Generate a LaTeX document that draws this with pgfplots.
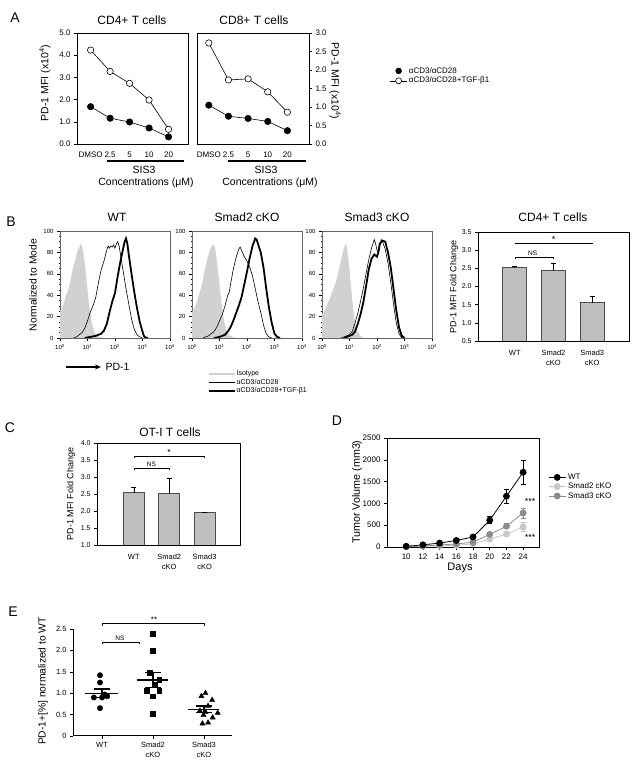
\documentclass[border=0pt]{standalone}
\usepackage{fontspec}
\setmainfont{Liberation Sans}
\usepackage{pgfplots}
\pgfplotsset{compat=1.18}
\usetikzlibrary{arrows.meta}

\newcommand{\fs}[2]{\fontsize{#1bp}{#2bp}\selectfont}

\pgfplotsset{
  base/.style={scale only axis, anchor=south west,
    /pgf/number format/assume math mode=true,
    axis line style={line width=0.6bp},
    every tick/.style={black, line width=0.5bp},
    tick align=outside, major tick length=3bp, minor tick length=1.5bp},
  onedec/.style={/pgf/number format/fixed, /pgf/number format/fixed zerofill,
    /pgf/number format/precision=1},
  hist/.style={base, width=110bp, height=107bp, xmin=0, xmax=4, ymin=0, ymax=100,
    axis line style={black!60, line width=0.5bp},
    xtick={0,1,2,3,4},
    xticklabels={10\textsuperscript{0},10\textsuperscript{1},10\textsuperscript{2},10\textsuperscript{3},10\textsuperscript{4}},
    minor xtick={0.301,0.477,0.602,0.699,0.778,0.845,0.903,0.954,
      1.301,1.477,1.602,1.699,1.778,1.845,1.903,1.954,
      2.301,2.477,2.602,2.699,2.778,2.845,2.903,2.954,
      3.301,3.477,3.602,3.699,3.778,3.845,3.903,3.954},
    ytick={0,20,40,60,80,100}, minor y tick num=3,
    xtick pos=bottom, ytick pos=left,
    tick label style={font=\fs{6}{7}}},
  iso/.style={draw=none, fill=black!18, forget plot},
  thin/.style={black, line width=0.6bp, forget plot},
  thick/.style={black, line width=1.8bp, forget plot},
  bars/.style={ybar, bar width=#1, fill=black!25, draw=black!70, line width=0.8bp,
    error bars/.cd, y dir=plus, y explicit,
    error mark options={rotate=90, mark size=2.5bp, line width=0.6bp},
    error bar style={line width=0.6bp}},
  grow/.style={color=#1, line width=0.8bp, mark=*, mark size=3bp, forget plot},
  errs/.style={color=#1, line width=0.5bp, unbounded coords=jump, forget plot},
}

\begin{document}
\begin{tikzpicture}[x=1bp,y=1bp]
\useasboundingbox (0,0) rectangle (637,773);

% panel letters
\node[font=\fs{14}{16}] at (15,755) {A};
\node[font=\fs{14}{16}] at (11,551) {B};
\node[font=\fs{14}{16}] at (10,345) {C};
\node[font=\fs{14}{16}] at (337,352) {D};
\node[font=\fs{14}{16}] at (13,161) {E};

% ---------------- A ----------------
\node[font=\fs{12}{14}] at (132,753) {CD4+ T cells};
\node[font=\fs{12}{14}] at (254,753) {CD8+ T cells};
\node[font=\fs{10.5}{12}, rotate=90] at (45,690) {PD-1 MFI (x10\textsuperscript{4})};
\node[font=\fs{10.5}{12}, rotate=-90] at (335,692) {PD-1 MFI (x10\textsuperscript{4})};
\draw[line width=1.1bp] (107,612) -- (184,612);
\draw[line width=1.1bp] (228,612) -- (306,612);
\node[font=\fs{10.5}{12}] at (144,603) {SIS3};
\node[font=\fs{10.5}{12}] at (146,590) {Concentrations (μM)};
\node[font=\fs{10.5}{12}] at (266,603) {SIS3};
\node[font=\fs{10.5}{12}] at (270,590) {Concentrations (μM)};

\begin{axis}[base, at={(77bp,629bp)}, width=111bp, height=111bp,
  xmin=-0.7, xmax=5, ymin=0, ymax=5,
  xtick={0,1,2,3,4}, xticklabels={DMSO,2.5,5,10,20}, x tick style={draw=none},
  ytick={0,1,2,3,4,5}, ytick pos=left, yticklabel style={onedec},
  tick label style={font=\fs{8}{9}}, xticklabel style={yshift=-1bp}]
\addplot[black, line width=0.6bp, mark=*, mark size=3.2bp,
  mark options={fill=white, line width=0.6bp}]
  coordinates {(0,4.23)(1,3.27)(2,2.73)(3,1.98)(4,0.66)};
\addplot[black, line width=0.6bp, mark=*, mark size=3.2bp]
  coordinates {(0,1.68)(1,1.16)(2,0.99)(3,0.72)(4,0.32)};
\end{axis}

\begin{axis}[base, at={(197bp,629bp)}, width=112bp, height=111bp,
  xmin=-0.6, xmax=5.1, ymin=0, ymax=3,
  xtick={0,1,2,3,4}, xticklabels={DMSO,2.5,5,10,20}, x tick style={draw=none},
  ytick={0,0.5,...,3}, ytick pos=right, yticklabel pos=right, yticklabel style={onedec},
  tick label style={font=\fs{8}{9}}, xticklabel style={yshift=-1bp},
  legend style={at={(1.72,0.70)}, anchor=north west, draw=none, fill=none,
    font=\fs{8}{9}, inner sep=0pt, row sep=1bp, nodes={inner sep=0.8bp, inner xsep=1.5bp}},
  legend cell align=left]
\addplot[black, line width=0.6bp, mark=*, mark size=3.2bp,
  mark options={fill=white, line width=0.6bp}, forget plot]
  coordinates {(0,2.73)(1,1.73)(2,1.76)(3,1.41)(4,0.86)};
\addplot[black, line width=0.6bp, mark=*, mark size=3.2bp, forget plot]
  coordinates {(0,1.05)(1,0.75)(2,0.69)(3,0.61)(4,0.36)};
\addlegendimage{only marks, mark=*, mark size=3bp, black}
\addlegendentry{αCD3/αCD28}
\addlegendimage{black, line width=0.6bp, mark=*, mark size=3bp, mark options={fill=white}}
\addlegendentry{αCD3/αCD28+TGF-β1}
\end{axis}

% ---------------- B histograms ----------------
\node[font=\fs{12}{14}] at (117,556) {WT};
\node[font=\fs{12}{14}] at (247,556) {Smad2 cKO};
\node[font=\fs{12}{14}] at (377,556) {Smad3 cKO};
\node[font=\fs{10.3}{12}, rotate=90] at (33,488) {Normalized to Mode};
\draw[-{Stealth[length=6bp,width=5bp]}, line width=1.3bp] (66,406) -- (101,406);
\node[font=\fs{10.5}{12}, anchor=west] at (102,406) {PD-1};

\begin{axis}[hist, at={(60bp,435bp)}]
\addplot[iso] coordinates {(0,25)(0.05,27)(0.1,30)(0.15,33)(0.2,38)(0.25,42)(0.3,45)
  (0.35,50)(0.4,56)(0.45,63)(0.5,68)(0.55,72)(0.6,78)(0.65,82)(0.7,85)(0.75,88)(0.8,86)
  (0.85,80)(0.9,70)(0.95,58)(1.0,45)(1.05,33)(1.1,24)(1.15,16)(1.2,10)(1.25,6)(1.3,3)
  (1.4,1.5)(1.5,0.5)(1.6,0)} \closedcycle;
\addplot[thin] coordinates {(0.5,0)(0.6,1)(0.7,3)(0.8,5)(0.9,9)(1.0,16)(1.1,24)(1.2,30)
  (1.3,38)(1.4,52)(1.5,64)(1.6,72)(1.7,82)(1.75,86)(1.8,84)(1.85,86)(1.9,85)(1.95,87)
  (2.0,84)(2.05,88)(2.1,90)(2.15,86)(2.2,78)(2.3,62)(2.4,46)(2.5,32)(2.6,18)(2.7,8)
  (2.8,3)(2.9,1)(3.0,0)};
\addplot[thick] coordinates {(0.9,0)(1.0,0.5)(1.1,1)(1.2,1.5)(1.3,2)(1.4,3)(1.5,4)(1.6,7)
  (1.7,13)(1.8,24)(1.9,34)(2.0,42)(2.1,58)(2.2,72)(2.3,84)(2.35,90)(2.4,93)(2.45,88)
  (2.5,78)(2.6,60)(2.7,43)(2.8,28)(2.9,15)(3.0,6)(3.05,2)(3.1,0.5)(3.2,0)};
\end{axis}

\begin{axis}[hist, at={(192bp,435bp)},
  legend style={at={(0.136,-0.30)}, anchor=north west, draw=none, fill=none,
    font=\fs{7}{8}, inner sep=0pt, row sep=0.8bp, nodes={inner sep=0.6bp}},
  legend cell align=left,
  legend image code/.code={\draw[#1] (0bp,0bp) -- (26bp,0bp);}]
\addplot[iso] coordinates {(0,24)(0.05,26)(0.1,28)(0.15,32)(0.2,36)(0.25,40)(0.3,44)
  (0.35,49)(0.4,55)(0.45,62)(0.5,68)(0.55,73)(0.6,78)(0.65,82)(0.7,85)(0.75,87)(0.8,87)
  (0.85,82)(0.9,73)(0.95,62)(1.0,50)(1.05,38)(1.1,27)(1.15,18)(1.2,12)(1.25,7)(1.3,4)
  (1.4,2)(1.5,0.5)(1.6,0)} \closedcycle;
\addplot[thin] coordinates {(0.4,0)(0.5,1)(0.6,2)(0.7,4)(0.8,6)(0.9,10)(1.0,16)(1.1,22)
  (1.2,30)(1.3,40)(1.35,42)(1.4,50)(1.5,64)(1.6,75)(1.7,83)(1.75,85)(1.8,82)(1.9,76)
  (2.0,72)(2.1,66)(2.2,58)(2.3,46)(2.4,34)(2.5,24)(2.6,12)(2.7,4)(2.8,1)(2.9,0)};
\addplot[thick] coordinates {(0.8,0)(0.9,0.5)(1.0,1)(1.1,2)(1.2,3)(1.3,6)(1.4,10)(1.5,16)
  (1.6,23)(1.7,30)(1.8,38)(1.9,50)(2.0,62)(2.1,75)(2.2,86)(2.3,93)(2.35,92)(2.4,88)
  (2.5,80)(2.6,66)(2.7,46)(2.8,28)(2.9,14)(3.0,4)(3.1,1)(3.2,0)};
\addlegendimage{black!18, line width=2.8bp}
\addlegendentry{Isotype}
\addlegendimage{black, line width=0.6bp}
\addlegendentry{αCD3/αCD28}
\addlegendimage{black, line width=2bp}
\addlegendentry{αCD3/αCD28+TGF-β1}
\end{axis}

\begin{axis}[hist, at={(322bp,435bp)}]
\addplot[iso] coordinates {(0,22)(0.1,26)(0.2,32)(0.3,38)(0.4,45)(0.5,52)(0.6,62)
  (0.7,74)(0.8,84)(0.85,88)(0.9,85)(0.95,76)(1.0,64)(1.05,50)(1.1,36)(1.15,24)(1.2,14)
  (1.3,6)(1.4,2)(1.5,0)} \closedcycle;
\addplot[thin] coordinates {(0.7,0)(0.8,1)(0.9,2)(1.0,3)(1.1,6)(1.2,14)(1.3,23)(1.4,34)
  (1.5,46)(1.6,60)(1.7,73)(1.8,84)(1.9,92)(1.95,88)(2.0,82)(2.05,80)(2.1,86)(2.15,92)
  (2.2,90)(2.3,83)(2.4,70)(2.5,52)(2.6,32)(2.7,14)(2.8,4)(2.9,0)};
\addplot[thick] coordinates {(0.8,0)(0.9,1)(1.0,2)(1.1,3)(1.2,6)(1.3,13)(1.4,22)(1.5,33)
  (1.6,48)(1.7,64)(1.8,74)(1.9,78)(2.0,76)(2.05,80)(2.1,88)(2.2,91)(2.3,90)(2.4,80)
  (2.5,66)(2.6,46)(2.7,26)(2.8,10)(2.9,2)(3.0,0)};
\end{axis}

% ---------------- B bar chart ----------------
\node[font=\fs{12}{14}] at (553,556) {CD4+ T cells};
\node[font=\fs{9}{11}, rotate=90] at (454,486) {PD-1 MFI Fold Change};
\begin{axis}[base, at={(478bp,432bp)}, width=151bp, height=109bp,
  xmin=-0.95, xmax=2.95, ymin=0.5, ymax=3.5,
  xtick={0,1,2}, xticklabels={WT,{Smad2\\cKO},{Smad3\\cKO}}, x tick style={draw=none},
  xticklabel style={align=center, font=\fs{7.5}{9.5}, yshift=-3bp},
  ytick={0.5,1,...,3.5}, ytick pos=left, yticklabel style={onedec, font=\fs{7}{8}}]
\addplot[bars=24bp] coordinates {(0,2.53) +- (0,0.02) (1,2.45) +- (0,0.18) (2,1.55) +- (0,0.18)};
\draw[line width=0.5bp] (axis cs:0,3.16) -- (axis cs:0,3.2) -- (axis cs:2,3.2) -- (axis cs:2,3.16);
\node[font=\fs{9}{10}, anchor=south, inner sep=0.5bp] at (axis cs:1,3.2) {*};
\draw[line width=0.5bp] (axis cs:0,2.77) -- (axis cs:0,2.81) -- (axis cs:1,2.81) -- (axis cs:1,2.77);
\node[font=\fs{6.5}{7}, anchor=south, inner sep=1bp] at (axis cs:0.46,2.81) {NS};
\end{axis}

% ---------------- C ----------------
\node[font=\fs{12}{14}] at (170,341) {OT-I T cells};
\node[font=\fs{9}{11}, rotate=90] at (71,279) {PD-1 MFI Fold Change};
\begin{axis}[base, at={(97bp,228bp)}, width=143bp, height=102bp,
  xmin=-1.04, xmax=3.0, ymin=1, ymax=4,
  xtick={0,1,2}, xticklabels={WT,{Smad2\\cKO},{Smad3\\cKO}}, x tick style={draw=none},
  xticklabel style={align=center, font=\fs{7.5}{9.5}, yshift=-3bp},
  ytick={1,1.5,...,4}, ytick pos=left, yticklabel style={onedec, font=\fs{7}{8}}]
\addplot[bars=21bp] coordinates {(0,2.54) +- (0,0.17) (1,2.51) +- (0,0.46) (2,1.96) +- (0,0.01)};
\draw[line width=0.5bp] (axis cs:0,3.57) -- (axis cs:0,3.62) -- (axis cs:2,3.62) -- (axis cs:2,3.57);
\node[font=\fs{9}{10}, anchor=south, inner sep=0.5bp] at (axis cs:1,3.62) {*};
\draw[line width=0.5bp] (axis cs:0,3.21) -- (axis cs:0,3.26) -- (axis cs:1,3.26) -- (axis cs:1,3.21);
\node[font=\fs{6.5}{7}, anchor=south, inner sep=1bp] at (axis cs:0.5,3.26) {NS};
\end{axis}

% ---------------- D ----------------
\node[font=\fs{10.7}{12}, rotate=90] at (357,281) {Tumor Volume (mm3)};
\node[font=\fs{11}{13}] at (460,205) {Days};
\node[font=\fs{9}{10}] at (530,272) {***};
\node[font=\fs{9}{10}] at (530,236) {***};
\begin{axis}[base, at={(387bp,226bp)}, width=152bp, height=109bp,
  xmin=7.7, xmax=25.9, ymin=0, ymax=2500,
  xtick={10,12,14,16,18,20,22,24}, ytick={0,500,1000,1500,2000,2500},
  yticklabels={0,500,1000,1500,2000,2500},
  xtick pos=bottom, ytick pos=left,
  tick label style={font=\fs{8}{9}},
  legend style={at={(1.06,0.68)}, anchor=north west, draw=none, fill=none,
    font=\fs{8}{9}, inner sep=0pt, row sep=0.5bp, nodes={inner sep=0.8bp, inner xsep=2bp}},
  legend cell align=left]
% error bars (segments with caps)
\addplot[errs=black!22] coordinates {(22,245)(22,345) (nan,nan) (21.7,345)(22.3,345)
  (nan,nan) (24,360)(24,560) (nan,nan) (23.7,560)(24.3,560) (nan,nan) (23.7,360)(24.3,360)};
\addplot[errs=black!45] coordinates {(20,240)(20,340) (nan,nan) (19.7,340)(20.3,340)
  (nan,nan) (22,415)(22,535) (nan,nan) (21.7,535)(22.3,535)
  (nan,nan) (24,665)(24,895) (nan,nan) (23.7,895)(24.3,895) (nan,nan) (23.7,665)(24.3,665)};
\addplot[errs=black] coordinates {(18,205)(18,255) (nan,nan) (20,535)(20,695)
  (nan,nan) (19.7,695)(20.3,695) (nan,nan) (19.7,535)(20.3,535)
  (nan,nan) (22,1005)(22,1325) (nan,nan) (21.7,1325)(22.3,1325) (nan,nan) (21.7,1005)(22.3,1005)
  (nan,nan) (24,1440)(24,1990) (nan,nan) (23.7,1990)(24.3,1990) (nan,nan) (23.7,1440)(24.3,1440)};
% series
\addplot[grow=black!22] coordinates {(10,5)(12,15)(14,25)(16,40)(18,70)(20,180)(22,295)(24,460)};
\addplot[grow=black!45] coordinates {(10,10)(12,25)(14,45)(16,70)(18,110)(20,290)(22,475)(24,780)};
\addplot[grow=black] coordinates {(10,15)(12,50)(14,90)(16,150)(18,230)(20,615)(22,1165)(24,1715)};
\addlegendimage{black, line width=0.8bp, mark=*, mark size=3bp}
\addlegendentry{WT}
\addlegendimage{black!22, line width=0.8bp, mark=*, mark size=3bp}
\addlegendentry{Smad2 cKO}
\addlegendimage{black!45, line width=0.8bp, mark=*, mark size=3bp}
\addlegendentry{Smad3 cKO}
\end{axis}

% ---------------- E ----------------
\node[font=\fs{10.3}{12}, rotate=90] at (43,92) {PD-1+[\%] normalized to WT};
\begin{axis}[base, at={(73bp,37bp)}, width=159bp, height=107bp,
  xmin=-0.57, xmax=2.55, ymin=0, ymax=2.5, clip=false,
  axis x line*=bottom, axis y line*=left, axis line style={line width=1bp},
  xtick={0,1,2}, xticklabels={WT,{Smad2\\cKO},{Smad3\\cKO}},
  xticklabel style={align=center, font=\fs{7.5}{10}},
  ytick={0,0.5,1,1.5,2,2.5}, yticklabels={0,0.5,1.0,1.5,2.0,2.5},
  yticklabel style={font=\fs{7.5}{9}}]
\addplot[only marks, mark=*, mark size=2.7bp, black] coordinates {
  (-0.04,1.42)(-0.04,1.25)(-0.16,0.90)(0.0,0.90)(0.10,0.93)(0.05,0.97)(-0.04,0.65)};
\addplot[only marks, mark=square*, mark size=2.4bp, black] coordinates {
  (1.0,2.39)(1.0,1.99)(0.93,1.48)(1.12,1.32)(1.04,1.19)(0.88,1.06)(1.12,1.06)(1.0,0.93)(1.0,0.525)};
\addplot[only marks, mark=triangle*, mark size=3bp, black] coordinates {
  (1.95,0.93)(2.03,1.0)(2.16,0.84)(2.08,0.70)(1.92,0.59)(2.03,0.56)(2.27,0.54)
  (2.17,0.43)(1.99,0.49)(1.97,0.29)(2.08,0.31)};
% mean lines
\addplot[black, line width=1.2bp] coordinates {(-0.34,1.0)(0.32,1.0)};
\addplot[black, line width=1.2bp] coordinates {(0.68,1.31)(1.30,1.31)};
\addplot[black, line width=1.2bp] coordinates {(1.68,0.62)(2.30,0.62)};
% SEM
\addplot[black, line width=1.2bp] coordinates {(0,0.9)(0,1.1)};
\addplot[black, line width=1.2bp] coordinates {(-0.16,1.1)(0.16,1.1)};
\addplot[black, line width=1.2bp] coordinates {(-0.16,0.9)(0.16,0.9)};
\addplot[black, line width=1.2bp] coordinates {(1,1.14)(1,1.48)};
\addplot[black, line width=1.2bp] coordinates {(0.84,1.48)(1.16,1.48)};
\addplot[black, line width=1.2bp] coordinates {(0.84,1.14)(1.16,1.14)};
\addplot[black, line width=1.2bp] coordinates {(2,0.55)(2,0.70)};
\addplot[black, line width=1.2bp] coordinates {(1.84,0.70)(2.16,0.70)};
\addplot[black, line width=1.2bp] coordinates {(1.84,0.55)(2.16,0.55)};
\draw[line width=0.5bp] (axis cs:0,2.58) -- (axis cs:0,2.64) -- (axis cs:2,2.64) -- (axis cs:2,2.58);
\node[font=\fs{8}{9}, anchor=south, inner sep=0.5bp] at (axis cs:1.02,2.64) {**};
\draw[line width=0.5bp] (axis cs:0,2.14) -- (axis cs:0,2.2) -- (axis cs:0.73,2.2) -- (axis cs:0.73,2.14);
\node[font=\fs{6.5}{7}, anchor=south, inner sep=1bp] at (axis cs:0.35,2.2) {NS};
\end{axis}

\end{tikzpicture}
\end{document}
